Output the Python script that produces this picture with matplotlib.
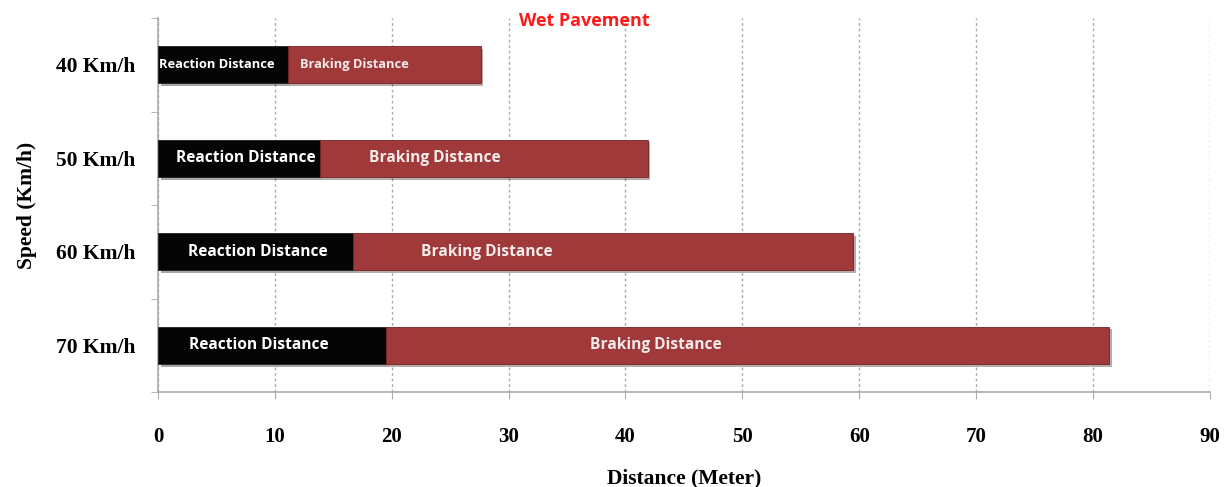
import matplotlib.pyplot as plt
import matplotlib.patheffects as pe
import numpy as np

speeds = ["40 Km/h", "50 Km/h", "60 Km/h", "70 Km/h"]
reaction = [11.1, 13.9, 16.7, 19.5]
braking = [16.5, 28.0, 42.8, 61.9]

# where the labels sit inside the bars (x in data units), and their size
reaction_label_x = [5.0, 7.5, 8.5, 8.6]
braking_label_x = [16.8, 23.7, 28.1, 42.6]
label_sizes = [9.3, 11.2, 11.2, 11.2]

fig = plt.figure(figsize=(12.27, 4.87), dpi=100)
ax = fig.add_axes([0.1288, 0.195, 0.8572, 0.768])

y = np.arange(len(speeds))
shadow = [pe.SimplePatchShadow(offset=(2, -2), alpha=0.35), pe.Normal()]

ax.barh(y, reaction, height=0.4, color="#050505", edgecolor="#222222",
        linewidth=0.6, path_effects=shadow, zorder=3)
ax.barh(y, braking, left=reaction, height=0.4, color="#a03a3a",
        edgecolor="#7a2020", linewidth=0.6, path_effects=shadow, zorder=3)

for i in range(len(speeds)):
    ax.text(reaction_label_x[i], y[i], "Reaction Distance", color="white",
            fontsize=label_sizes[i], fontweight="bold", family="Open Sans",
            ha="center", va="center", zorder=4)
    ax.text(braking_label_x[i], y[i], "Braking Distance", color="#f4eaea",
            fontsize=label_sizes[i], fontweight="bold", family="Open Sans",
            ha="center", va="center", zorder=4)

ax.set_xlim(0, 90)
ax.set_ylim(3.5, -0.5)
ax.set_xticks(range(0, 91, 10))
ax.set_xticklabels([str(v) for v in range(0, 91, 10)], fontsize=15,
                   fontweight="bold", family="Liberation Serif")
ax.set_yticks(y)
ax.set_yticklabels(speeds, fontsize=15.5, fontweight="bold",
                   family="Liberation Serif")
ax.set_yticks(np.arange(-0.5, 4.0, 1.0), minor=True)
ax.tick_params(axis="y", which="major", length=0, pad=16)
ax.tick_params(axis="y", which="minor", length=5, color="#aaaaaa")
ax.tick_params(axis="x", length=5, color="#aaaaaa", pad=20)

ax.grid(axis="x", linestyle=(0, (2, 2)), color="#aaaaaa", linewidth=1.0, zorder=0)
ax.set_axisbelow(True)
for s in ["top", "right"]:
    ax.spines[s].set_visible(False)
for s in ["left", "bottom"]:
    ax.spines[s].set_color("#aaaaaa")
    ax.spines[s].set_linewidth(1.2)

ax.set_xlabel("Distance (Meter)", fontsize=15.5, fontweight="bold",
              family="Liberation Serif", labelpad=16)
ax.set_ylabel("Speed (Km/h)", fontsize=15.5, fontweight="bold",
              family="Liberation Serif", labelpad=14)

fig.text(0.476, 0.957, "Wet Pavement", color="#ff1a1a", fontsize=13,
         fontweight="bold", family="Open Sans", ha="center", va="center")

plt.savefig("out.png", dpi=100)
plt.close(fig)
